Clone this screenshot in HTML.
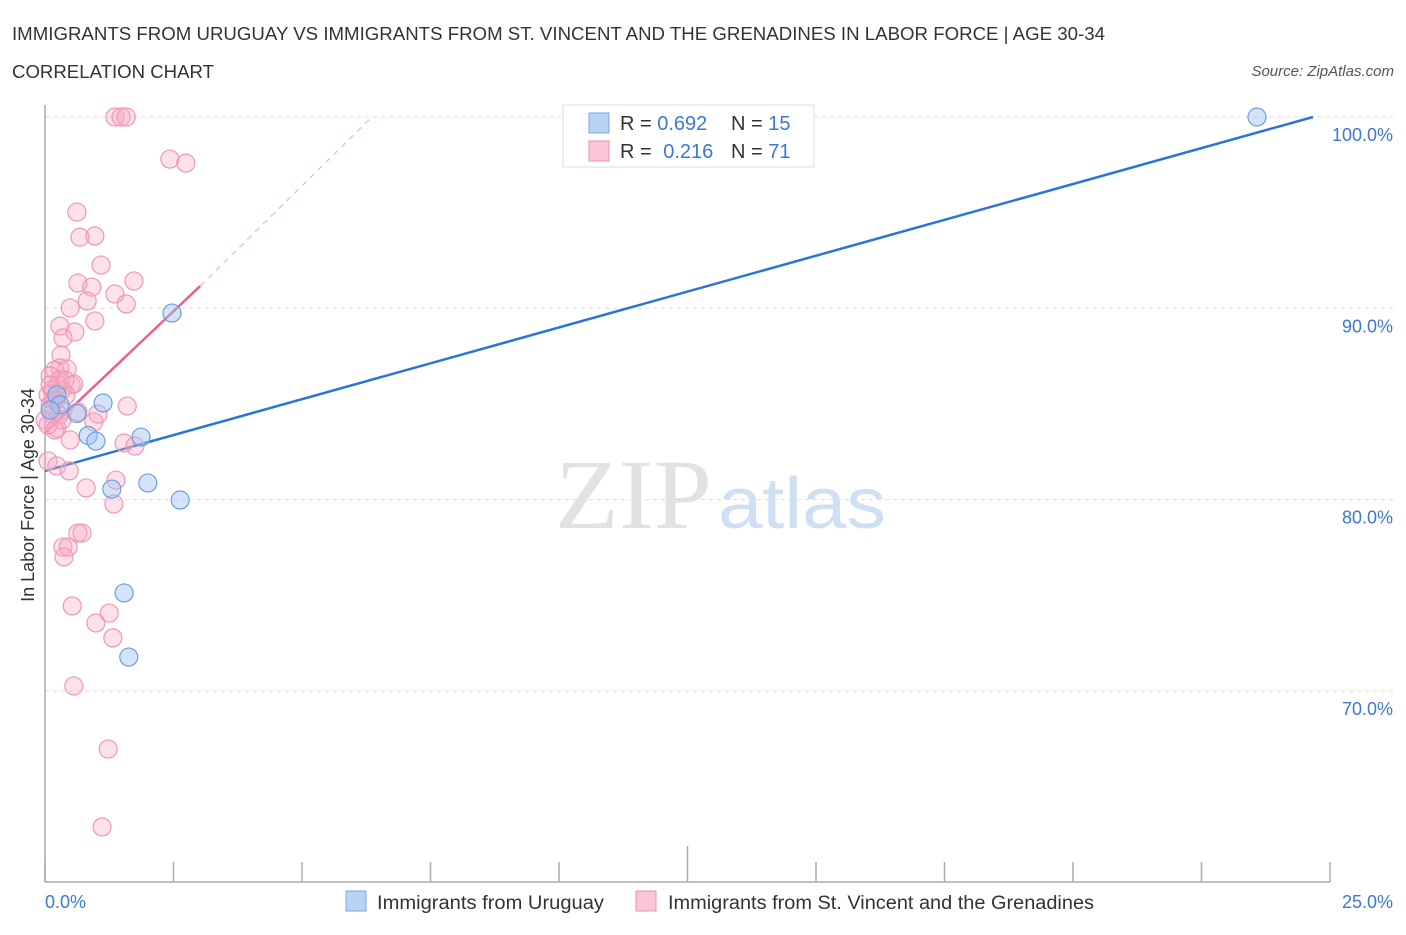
<!DOCTYPE html>
<html><head><meta charset="utf-8">
<style>
body{margin:0;background:#fff;font-family:"Liberation Sans",sans-serif;}
svg text{font-family:"Liberation Sans",sans-serif;}
</style></head>
<body>
<svg id="chart" width="1406" height="930" xmlns="http://www.w3.org/2000/svg">
<text x="12" y="40" font-size="18.5" fill="#333" textLength="1093" lengthAdjust="spacingAndGlyphs">IMMIGRANTS FROM URUGUAY VS IMMIGRANTS FROM ST. VINCENT AND THE GRENADINES IN LABOR FORCE | AGE 30-34</text>
<text x="12" y="78" font-size="18.5" fill="#333" textLength="202" lengthAdjust="spacingAndGlyphs">CORRELATION CHART</text>
<text x="1394" y="76" font-size="15" fill="#555" font-style="italic" text-anchor="end">Source: ZipAtlas.com</text>
<text x="555" y="528" font-size="100" fill="#e2e2e2" textLength="157" lengthAdjust="spacingAndGlyphs" style="font-family:'Liberation Serif',serif">ZIP</text>
<text x="718" y="528" font-size="72" fill="#cfe0f4" textLength="168" lengthAdjust="spacingAndGlyphs">atlas</text>
<g id="grid"></g>
<g id="axes"></g>
<g id="lines"></g>
<g id="pts"></g>
<text transform="translate(34,495) rotate(-90)" font-size="18" fill="#333" text-anchor="middle">In Labor Force | Age 30-34</text>
<text x="45" y="908" font-size="18" fill="#3b78d8">0.0%</text>
<text x="1393" y="908" font-size="18" fill="#3b78d8" text-anchor="end">25.0%</text>
<g>
<rect x="563" y="105" width="251" height="62" fill="#fff" stroke="#ddd"/>
<rect x="589" y="113" width="20" height="20" fill="#b9d3f5" stroke="#7aa7e6"/>
<rect x="589" y="141" width="20" height="20" fill="#fac6d6" stroke="#ec90ae"/>
<text x="620" y="130" font-size="20" fill="#333">R = <tspan fill="#3b78d8">0.692</tspan></text>
<text x="731" y="130" font-size="20" fill="#333">N = <tspan fill="#3b78d8">15</tspan></text>
<text x="620" y="158" font-size="20" fill="#333">R = <tspan fill="#3b78d8" dx="6">0.216</tspan></text>
<text x="731" y="158" font-size="20" fill="#333">N = <tspan fill="#3b78d8">71</tspan></text>
</g>
<g>
<rect x="346" y="891" width="20" height="20" fill="#b9d3f5" stroke="#7aa7e6"/>
<text x="377" y="909" font-size="19" fill="#333" textLength="227" lengthAdjust="spacingAndGlyphs">Immigrants from Uruguay</text>
<rect x="636" y="891" width="20" height="20" fill="#fac6d6" stroke="#ec90ae"/>
<text x="668" y="909" font-size="19" fill="#333" textLength="426" lengthAdjust="spacingAndGlyphs">Immigrants from St. Vincent and the Grenadines</text>
</g>
</svg>
<script>
const yTicks=[100,90,80,70];
const yTickLabels=["100.0%","90.0%","80.0%","70.0%"];
const xTickValues=[0,2.5,5,7.5,10,12.5,15,17.5,20,22.5,25];
const blueX=[23.58,2.47,1.13,0.62,0.84,0.99,1.87,2.00,1.30,2.63,1.54,1.63,0.23,0.29,0.10];
const blueY=[100,89.75,85.05,84.5,83.35,83.06,83.27,80.87,80.55,79.98,75.12,71.77,85.47,84.95,84.68];
const pinkX=[1.36,1.48,1.58,2.43,2.74,0.62,0.68,0.97,1.09,0.64,0.91,1.73,1.36,1.58,0.49,0.82,0.97,0.29,0.58,0.35,0.31,0.29,0.19,0.43,0.10,0.25,0.51,0.56,0.14,0.33,0.06,0.41,0.21,0.10,0.35,0.14,0.27,0.64,1.03,0.95,0.23,1.60,1.54,1.75,0.06,0.23,0.47,0.80,1.38,1.34,0.64,0.72,0.35,0.45,0.37,0.53,0.99,1.25,1.32,0.56,1.23,1.11,0.16,0.29,0.0,0.39,0.10,0.19,0.49,0.06,0.33];
const pinkY=[100,100,100,97.80,97.59,95.03,93.72,93.78,92.26,91.32,91.11,91.43,90.75,90.23,90.02,90.38,89.34,89.07,88.76,88.45,87.56,86.88,86.77,86.83,86.46,85.99,85.99,86.04,85.73,85.73,85.47,85.47,85.21,84.95,84.68,84.47,84.42,84.58,84.47,84.06,83.74,84.89,82.96,82.80,82.02,81.76,81.50,80.61,81.02,79.77,78.25,78.25,77.52,77.52,77.00,74.44,73.55,74.07,72.77,70.26,66.96,62.89,85.21,86.25,84.16,86.25,85.99,83.64,83.12,83.90,84.16];
const blueTrend=[[0,81.5],[24.67,100]];
const pinkTrend=[[0,83.48],[3.02,91.17]];
const pinkDash=[[3.02,91.17],[6.36,100]];
const NS="http://www.w3.org/2000/svg";
const X=v=>45+v/25*1285;
const Y=v=>117+(100-v)*19.13;
function mk(tag,attrs,parent){const e=document.createElementNS(NS,tag);for(const k in attrs)e.setAttribute(k,attrs[k]);document.getElementById(parent).appendChild(e);return e;}
yTicks.forEach((t,i)=>{
 const l=mk('line',{x1:45,x2:1393,y1:Y(t),y2:Y(t),stroke:'#ddd','stroke-dasharray':'4,4'},'grid');
 
 
 const tx=mk('text',{x:1393,y:Y(t)+24,'font-size':18,fill:'#3b78d8','text-anchor':'end'},'grid');
 tx.textContent=yTickLabels[i];
 
 
});
const ax=mk('line',{x1:45,x2:1330,y1:882,y2:882,stroke:'#aaa','stroke-width':1.5},'axes');


const ay=mk('line',{x1:45,x2:45,y1:105,y2:882,stroke:'#aaa','stroke-width':1.5},'axes');


xTickValues.forEach((v,i)=>{
 const t=mk('line',{x1:X(v),x2:X(v),y1:(i==5?846:862),y2:882,stroke:'#aaa','stroke-width':1.5},'axes');
 
 
});
const bl=mk('line',{x1:X(blueTrend[0][0]),y1:Y(blueTrend[0][1]),x2:X(blueTrend[1][0]),y2:Y(blueTrend[1][1]),stroke:'#2c74d6','stroke-width':2.5},'lines');


const pl=mk('line',{x1:X(pinkTrend[0][0]),y1:Y(pinkTrend[0][1]),x2:X(pinkTrend[1][0]),y2:Y(pinkTrend[1][1]),stroke:'#e8628d','stroke-width':2.5},'lines');


const pd=mk('line',{x1:X(pinkDash[0][0]),y1:Y(pinkDash[0][1]),x2:X(pinkDash[1][0]),y2:Y(pinkDash[1][1]),stroke:'#f0a8bf','stroke-width':1,'stroke-dasharray':'6,5'},'lines');


pinkX.forEach((v,i)=>{
 const c=mk('circle',{cx:X(v),cy:Y(pinkY[i]),r:9,fill:'rgba(246,168,194,0.35)',stroke:'#ef97b5','stroke-width':1.2},'pts');
 
 
});
blueX.forEach((v,i)=>{
 const c=mk('circle',{cx:X(v),cy:Y(blueY[i]),r:9,fill:'rgba(160,196,240,0.45)',stroke:'#6a9fe0','stroke-width':1.2},'pts');
 
 
});
</script>
</body></html>
